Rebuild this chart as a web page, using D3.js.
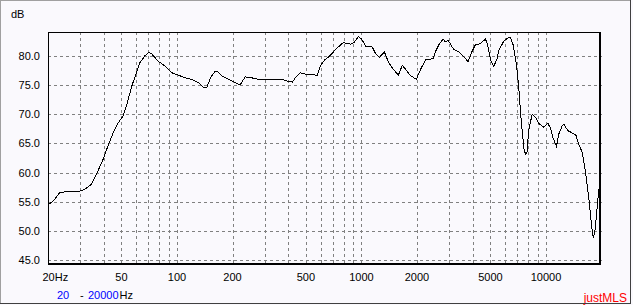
<!DOCTYPE html>
<html>
<head>
<meta charset="utf-8">
<script src="https://cdn.jsdelivr.net/npm/d3@7"></script>
<style>
  body { margin: 0; background: #fff; }
  text { font-family: "Liberation Sans", Arial, sans-serif; font-size: 11px; }
</style>
</head>
<body>
<div id="chart"></div>
<script>
// frequency response
const freqs = [20, 21.3, 23.1, 24.6, 29.1, 31.6, 34.4, 37.3, 39.8, 42.3, 45.1, 48.0, 51.0, 53.9, 56.6, 59.5, 62.9, 66.9, 70.4, 72.7,
  79.0, 85.9, 94.1, 103.6, 115, 120, 131, 139, 145, 153, 161, 168, 175, 190, 207, 220, 234, 249, 277, 314,
  341, 371, 394, 423, 438, 466, 506, 550, 574, 598, 636, 669, 724, 797, 873, 911, 961, 1002, 1053, 1135,
  1189, 1250, 1330, 1407, 1488, 1584, 1665, 1735, 1847, 1983, 2093, 2228, 2438, 2532, 2628, 2770, 2850, 2948, 3162, 3365,
  3582, 3784, 3978, 4146, 4413, 4697, 4816, 5000, 5211, 5436, 5546, 5902, 6282, 6417, 6638, 6918, 7119, 7272, 7428, 7598,
  7742, 7888, 8068, 8417, 8770, 9140, 9730, 10228, 10578, 10940, 11402, 11736, 12244, 12492, 13132, 13874, 14548, 15066, 15720, 16380,
  17070, 17654, 18032, 18394, 18792, 19336, 19626];
const levels = [54.5, 55.1, 56.5, 56.7, 56.7, 57.1, 58.0, 60.3, 62.3, 64.6, 66.8, 68.5, 69.7, 72.0, 74.6, 76.6, 78.8, 80.0, 80.6, 80.4,
  79.1, 78.3, 77.1, 76.6, 76.1, 76.0, 75.4, 74.6, 74.6, 76.4, 77.4, 77.2, 76.6, 76.0, 75.4, 75.0, 76.4, 76.3, 76.0, 76.0,
  75.9, 76.0, 75.7, 75.5, 76.3, 77.1, 76.8, 76.8, 76.6, 78.3, 79.4, 79.9, 81.1, 82.3, 82.0, 82.3, 83.3, 82.9, 81.7, 81.7,
  80.5, 79.7, 80.7, 78.8, 77.7, 76.7, 78.4, 77.7, 76.6, 76.0, 77.7, 79.4, 79.5, 80.9, 81.9, 82.9, 82.4, 82.7, 81.1, 80.7,
  79.9, 79.0, 80.8, 81.9, 82.1, 82.9, 82.0, 79.4, 78.2, 79.5, 80.9, 82.5, 83.2, 83.1, 81.9, 78.5, 74.7, 70.5, 67.3, 64.0,
  63.2, 63.4, 67.3, 70.0, 69.5, 68.4, 67.8, 68.5, 67.6, 65.9, 64.5, 66.6, 68.0, 68.3, 67.2, 66.8, 66.4, 64.8, 63.5, 60.1,
  55.7, 51.1, 48.8, 49.7, 52.8, 57.1, 57.5];

const yTicks = [45, 50, 55, 60, 65, 70, 75, 80];
const xLabels = [20, 50, 100, 200, 500, 1000, 2000, 5000, 10000];
const xGrid = [30, 40, 50, 60, 70, 80, 90, 100, 200, 300, 400, 500, 600, 700, 800, 900,
  1000, 2000, 3000, 4000, 5000, 6000, 7000, 8000, 9000, 10000];
const xDomain = [20, 20000];
const yDomain = [44.5, 84.1];

const w = 633;
const h = 305;
const plot = {left: 48, top: 32, right: 601.5, bottom: 263};

const svg = d3.select("#chart").
append("svg").
attr("width", w).
attr("height", h);

svg.append("rect").
attr("width", w).
attr("height", h).
attr("fill", "#faf9fd");

const x = d3.scaleLog().domain(xDomain).range([plot.left, plot.right]);
const y = d3.scaleLinear().domain(yDomain).range([plot.bottom, plot.top]);
const px = v => Math.round(v) + 0.5;

//dashed grid
const grid = svg.append("g").
attr("stroke", "#808080").
attr("stroke-dasharray", "3,3").
attr("shape-rendering", "crispEdges");

grid.selectAll("line.v").
data(xGrid).
enter().
append("line").
attr("class", "v").
attr("x1", d => px(x(d))).
attr("x2", d => px(x(d))).
attr("y1", plot.top).
attr("y2", plot.bottom);

grid.selectAll("line.h").
data(yTicks).
enter().
append("line").
attr("class", "h").
attr("x1", plot.left).
attr("x2", plot.right).
attr("y1", d => px(y(d))).
attr("y2", d => px(y(d)));

//frame: thin top/left, thick bottom/right
const frame = svg.append("g").attr("stroke", "#000").attr("shape-rendering", "crispEdges");
frame.append("line").attr("x1", plot.left).attr("x2", 601).attr("y1", plot.top + 0.5).attr("y2", plot.top + 0.5);
frame.append("line").attr("x1", plot.left + 0.5).attr("x2", plot.left + 0.5).attr("y1", plot.top).attr("y2", 265);
frame.append("line").attr("x1", plot.left).attr("x2", 601).attr("y1", 264).attr("y2", 264).attr("stroke-width", 2);
frame.append("line").attr("x1", 600).attr("x2", 600).attr("y1", plot.top).attr("y2", 265).attr("stroke-width", 2);

//response curve, aliased like the original
const line = d3.line().
x((d, i) => x(freqs[i])).
y(d => y(d));

svg.append("path").
datum(levels).
attr("d", line).
attr("fill", "none").
attr("stroke", "#000").
attr("stroke-width", 1).
attr("shape-rendering", "crispEdges");

//y labels
svg.selectAll("text.ylab").
data(yTicks).
enter().
append("text").
attr("class", "ylab").
attr("x", 40).
attr("y", d => y(d) + 4).
attr("text-anchor", "end").
text(d => d3.format(".1f")(d));

svg.append("text").
attr("x", 11).
attr("y", 18).
text("dB");

//x labels, first one carries the unit
svg.selectAll("text.xlab").
data(xLabels).
enter().
append("text").
attr("class", "xlab").
attr("x", d => d === 20 ? x(d) - 5.5 : x(d)).
attr("y", 281).
attr("text-anchor", d => d === 20 ? "start" : "middle").
text(d => d === 20 ? d + "Hz" : d);

//range line under the axis
const range = svg.append("text").attr("x", 57).attr("y", 298.5);
range.append("tspan").attr("fill", "#0000ff").text(xDomain[0]);
range.append("tspan").attr("x", 80).text("-");
range.append("tspan").attr("x", 88).attr("fill", "#0000ff").text(xDomain[1]);
range.append("tspan").attr("dx", 1).text("Hz");

svg.append("text").
attr("x", 627).
attr("y", 301.5).
attr("text-anchor", "end").
attr("fill", "#ff0000").
style("font-size", "12px").
text("justMLS");

//window edge
const edge = svg.append("g").attr("shape-rendering", "crispEdges");
edge.append("line").attr("x1", 0).attr("x2", 631).attr("y1", 0.5).attr("y2", 0.5).attr("stroke", "#a0a0a0");
edge.append("line").attr("x1", 0.5).attr("x2", 0.5).attr("y1", 0).attr("y2", 304).attr("stroke", "#a0a0a0");
edge.append("line").attr("x1", 0).attr("x2", 631).attr("y1", 303.5).attr("y2", 303.5).attr("stroke", "#404040");
edge.append("line").attr("x1", 630.5).attr("x2", 630.5).attr("y1", 0).attr("y2", 304).attr("stroke", "#404040");
</script>
</body>
</html>
